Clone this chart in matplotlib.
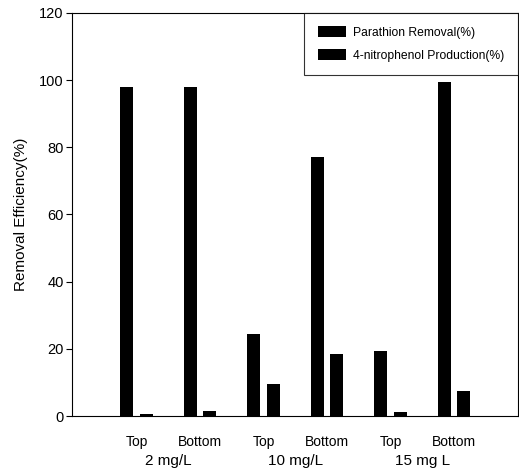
import matplotlib
matplotlib.use("Agg")
import matplotlib.pyplot as plt
from matplotlib import font_manager
import numpy as np

names = {f.name for f in font_manager.fontManager.ttflist}
fam = "Liberation Sans Narrow" if "Liberation Sans Narrow" in names else "Liberation Sans"
plt.rcParams['font.family'] = [fam, 'DejaVu Sans']

positions = ["Top", "Bottom", "Top", "Bottom", "Top", "Bottom"]
groups = ["2 mg/L", "10 mg/L", "15 mg L"]
parathion = [98, 98, 24.3, 77.2, 19.4, 99.5]
nitrophenol = [0.5, 1.5, 9.4, 18.5, 1.3, 7.5]
series_names = ["Parathion Removal(%)", "4-nitrophenol Production(%)"]

fig = plt.figure(figsize=(5.19, 4.69), dpi=100)
ax = fig.add_axes([0.1387, 0.113, 0.998 - 0.1387, 0.9723 - 0.113])

x = np.arange(len(positions))
w = 0.205
off = 0.153
ax.bar(x - off, parathion, w, color='black', label=series_names[0])
ax.bar(x + off, nitrophenol, w, color='black', label=series_names[1])

ax.set_xlim(-1.02, 6.01)
ax.set_ylim(0, 120)
ax.set_yticks(range(0, 121, 20))
ax.tick_params(axis='y', direction='out', length=4, width=0.8, labelsize=10.5, pad=2)
ax.set_xticks(x)
ax.set_xticklabels(positions, fontsize=10)
ax.tick_params(axis='x', length=0, pad=14)
for s in ax.spines.values():
    s.set_linewidth(0.8)

for i, g in enumerate(groups):
    xc = (x[2 * i] + x[2 * i + 1]) / 2
    ax.text(xc, -0.112, g, transform=ax.get_xaxis_transform(), ha='center', va='center', fontsize=11)

ax.set_ylabel("Removal Efficiency(%)", fontsize=11, labelpad=8)

leg = ax.legend(loc='upper right', fontsize=8.7, frameon=True, fancybox=False,
                edgecolor='black', borderaxespad=0, handlelength=2.3, handleheight=1.0,
                borderpad=1.1, labelspacing=0.85, handletextpad=0.65)
leg.get_frame().set_linewidth(0.8)

fig.savefig("out.png", dpi=100)
